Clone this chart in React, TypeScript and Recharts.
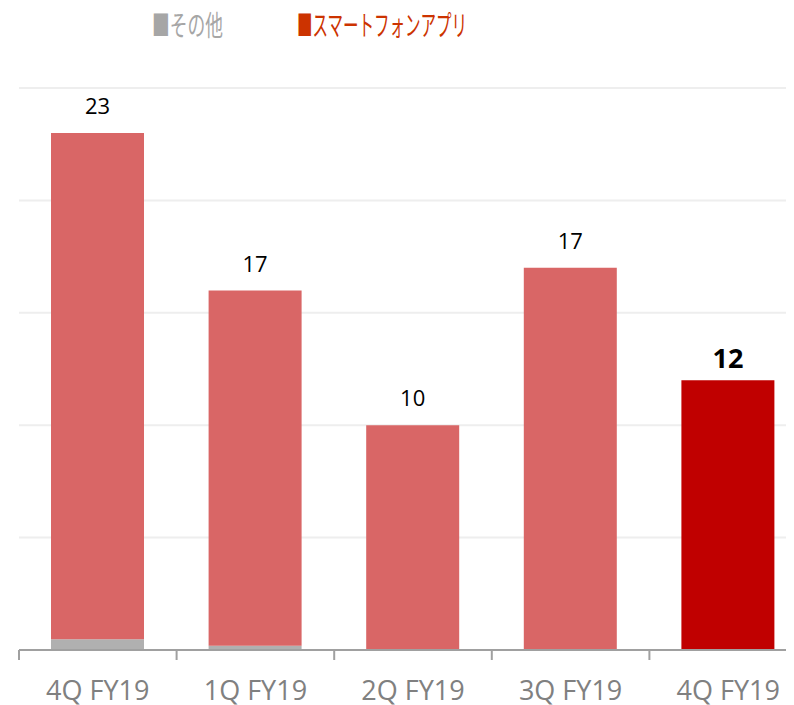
import { BarChart, Bar, XAxis, YAxis, CartesianGrid, Legend, LabelList, Cell } from "recharts";

const quarters = ["4Q FY19", "1Q FY19", "2Q FY19", "3Q FY19", "4Q FY19"];
const otherValues = [0.48, 0.19, 0, 0, 0];
const appValues = [22.52, 15.8, 10, 17, 12];
const totalLabels = ["23", "17", "10", "17", "12"];
const yTicks = [0, 5, 10, 15, 20, 25];

const appColor = "#D96666";
const latestColor = "#C00000";
const otherColor = "#B0B0B0";

const data = quarters.map((q, i) => ({
  key: `${q}-${i}`,
  quarter: q,
  other: otherValues[i],
  app: appValues[i],
}));

const legendItems = [
  { name: "その他", color: "#A6A6A6", x: 144, len: 71 },
  { name: "スマートフォンアプリ", color: "#CC3300", x: 289, len: 170 },
];

function LegendRow() {
  return (
    <svg width={786} height={50} style={{ display: "block", overflow: "visible" }}>
      {legendItems.map((it) => (
        <text
          key={it.name}
          x={it.x}
          y={28}
          fill={it.color}
          fontSize={28}
          fontFamily="'Noto Sans CJK JP', sans-serif"
          textLength={it.len}
          lengthAdjust="spacingAndGlyphs"
        >
          {"■" + it.name}
        </text>
      ))}
    </svg>
  );
}

function QuarterTick(props: any) {
  const { x, y, payload } = props;
  const half = payload && payload.offset != null ? payload.offset : 78.8;
  return (
    <g>
      <line x1={x - half} x2={x - half} y1={y} y2={y + 10} stroke="#A0A0A0" strokeWidth={2} />
      <text
        x={x}
        y={y + 50}
        textAnchor="middle"
        fill="#808080"
        fontSize={27}
        fontFamily="'Open Sans', sans-serif"
      >
        {quarters[payload.index] ?? payload.value}
      </text>
    </g>
  );
}

function TotalLabel(props: any) {
  const { x, y, width, index } = props;
  const last = index === quarters.length - 1;
  return (
    <text
      x={x + width / 2}
      y={last ? y - 12 : y - 19}
      textAnchor="middle"
      fill="#000"
      fontSize={last ? 27 : 22}
      fontWeight={last ? 700 : 400}
      fontFamily="'Open Sans', sans-serif"
    >
      {totalLabels[index]}
    </text>
  );
}

export default function App() {
  return (
    <div style={{ width: 786, height: 697, overflow: "hidden" }}>
      <BarChart
        width={799}
        height={697}
        data={data}
        margin={{ top: 30, right: 0, bottom: 0, left: 11 }}
        barSize={93}
      >
        <CartesianGrid vertical={false} stroke="#EEEEEE" strokeWidth={2} />
        <YAxis hide domain={[0, 25]} ticks={yTicks} />
        <XAxis
          dataKey="key"
          height={55}
          tickSize={0}
          tickMargin={0}
          tick={<QuarterTick />}
          axisLine={{ stroke: "#A0A0A0", strokeWidth: 2 }}
          tickLine={false}
          interval={0}
        />
        <Legend
          content={<LegendRow />}
          verticalAlign="top"
          height={50}
          wrapperStyle={{ top: 0, left: 0, width: 786, height: 50 }}
        />
        <Bar dataKey="other" stackId="a" fill={otherColor} isAnimationActive={false} />
        <Bar dataKey="app" stackId="a" fill={appColor} isAnimationActive={false}>
          {data.map((d, i) => (
            <Cell key={d.key} fill={i === data.length - 1 ? latestColor : appColor} />
          ))}
          <LabelList dataKey="app" content={<TotalLabel />} />
        </Bar>
      </BarChart>
    </div>
  );
}
